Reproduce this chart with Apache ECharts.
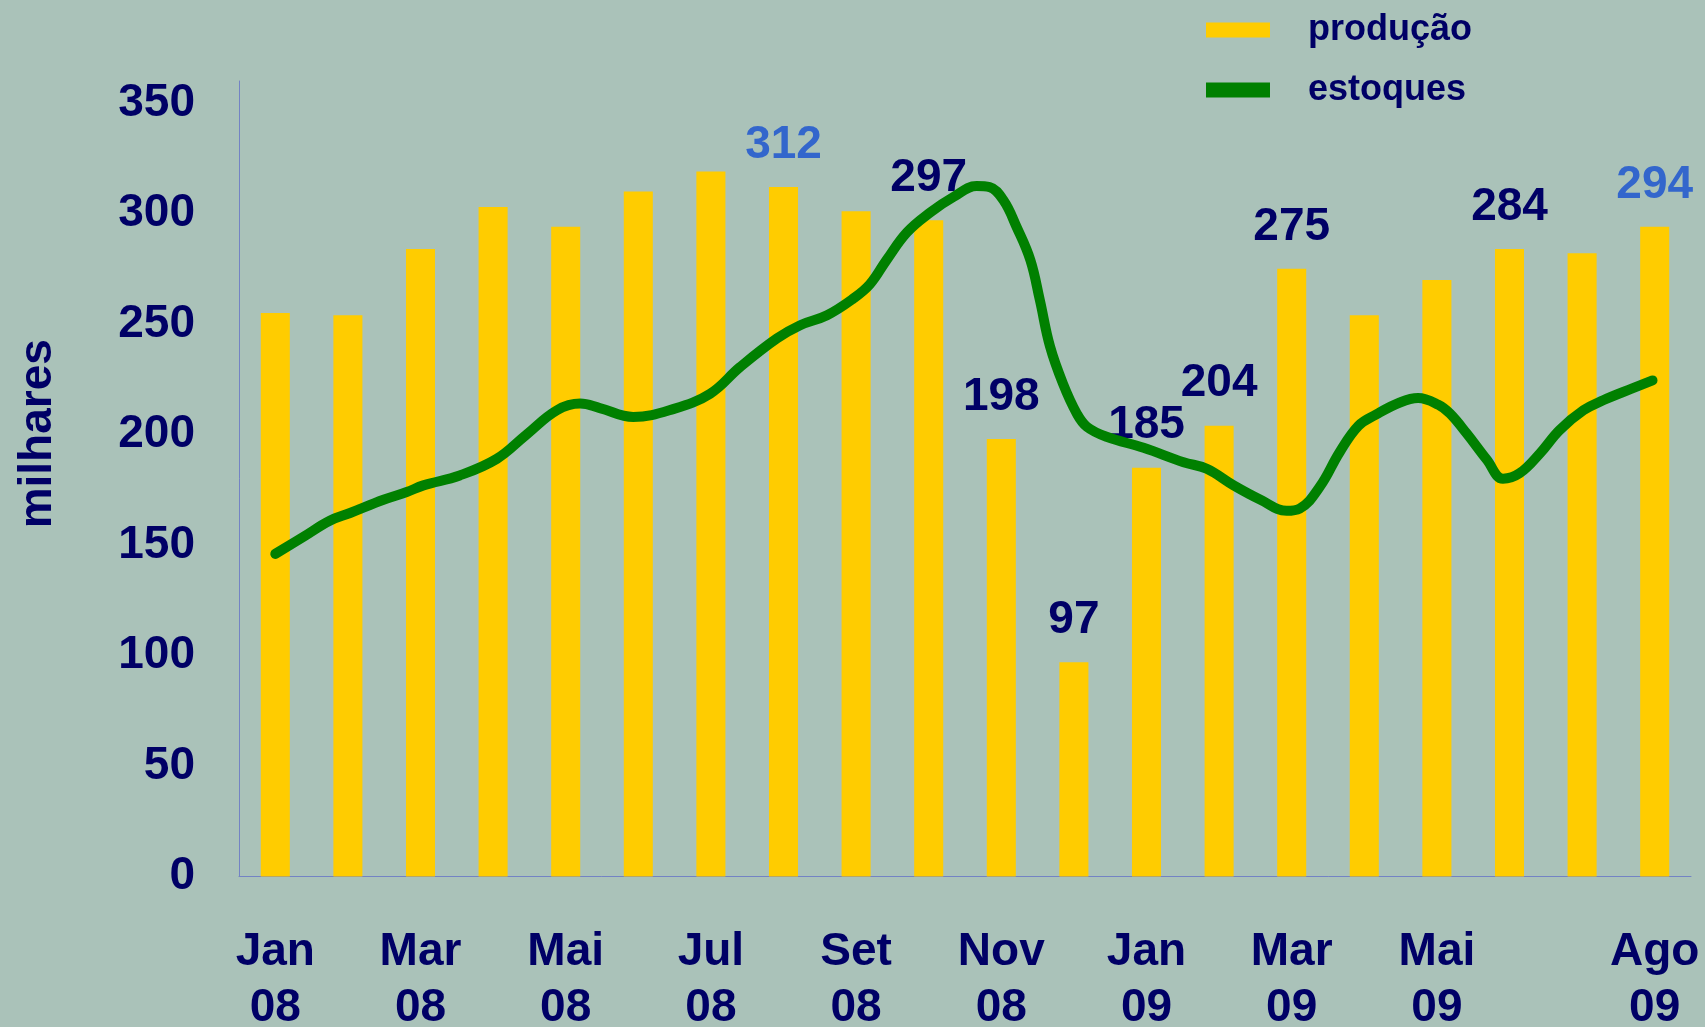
<!DOCTYPE html>
<html>
<head>
<meta charset="utf-8">
<script src="https://cdn.jsdelivr.net/npm/echarts@6/dist/echarts.min.js"></script>
<style>
  html, body { margin: 0; padding: 0; background: #aac2b9; }
  #chart { width: 1705px; height: 1027px; }
</style>
</head>
<body>
<div id="chart"></div>
<script>
// meses (categorias) e rótulos do eixo
const months = ['Jan 08', 'Fev 08', 'Mar 08', 'Abr 08', 'Mai 08', 'Jun 08', 'Jul 08', 'Ago 08', 'Set 08', 'Out 08',
  'Nov 08', 'Dez 08', 'Jan 09', 'Fev 09', 'Mar 09', 'Abr 09', 'Mai 09', 'Jun 09', 'Jul 09', 'Ago 09']
const monthLabels = ['Jan\n08', '', 'Mar\n08', '', 'Mai\n08', '', 'Jul\n08', '', 'Set\n08', '', 'Nov\n08', '',
  'Jan\n09', '', 'Mar\n09', '', 'Mai\n09', '', '', 'Ago\n09']

// produção mensal (milhares)
const producao = [255, 254, 284, 303, 294, 310, 319, 312, 301, 297, 198, 97, 185, 204, 275, 254, 270, 284, 282, 294]
// quais barras mostram o valor, e em que cor
const labelColors = [null, null, null, null, null, null, null, '#3366cc', null, '#000066',
  '#000066', '#000066', '#000066', '#000066', '#000066', null, null, '#000066', null, '#3366cc']

// estoques: posição em meses (0 = Jan 08) e valor
const estoqueX = [0, 0.4, 0.75, 1.03, 1.49, 1.81, 2.04, 2.54, 3.05, 3.46, 3.88, 4.2, 4.47, 4.93, 5.48, 5.99,
  6.4, 6.91, 7.23, 7.6, 7.96, 8.19, 8.42, 8.7, 9.02, 9.34, 9.66, 9.84, 10.03, 10.21, 10.4, 10.53, 10.67,
  10.85, 11.04, 11.18, 11.45, 11.96, 12.51, 12.83, 13.2, 13.57, 13.93, 14.11, 14.39, 14.66, 14.92, 15.16,
  15.49, 15.74, 16.02, 16.18, 16.41, 16.69, 16.91, 17.14, 17.42, 17.69, 18.02, 18.29, 18.7, 18.97]
const estoqueY = [146, 154, 161, 164.5, 170.5, 174, 177, 181.5, 189, 200, 211, 214, 212, 208, 211.5, 218.5,
  230.5, 243.5, 249.5, 254, 261.5, 268, 279, 291.5, 300.5, 307.5, 312.5, 312, 306, 294, 279, 261, 240,
  223, 209.5, 203.5, 199, 194, 187.5, 184.5, 177, 170.5, 165.5, 166.5, 176.5, 192, 204, 209,
  214.5, 216.5, 213.5, 209.5, 200.5, 188.5, 180, 182.5, 191.5, 202, 211, 215.5, 221, 224.5]

const navy = '#000066'
const font = "'Liberation Sans', Arial, sans-serif"

const chart = echarts.init(document.getElementById('chart'), null, { renderer: 'canvas' })

chart.setOption({
  animation: false,
  backgroundColor: '#aac2b9',
  textStyle: { fontFamily: font },
  legend: {
    orient: 'vertical',
    left: 1201,
    top: 6,
    itemWidth: 64,
    itemHeight: 15,
    itemGap: 22,
    textStyle: {
      color: navy, fontSize: 36, fontWeight: 'bold', fontFamily: font,
      lineHeight: 38, padding: [0, 0, 0, 33],
    },
    data: [
      { name: 'produção', icon: 'rect' },
      { name: 'estoques', icon: 'rect' },
    ],
  },
  grid: { left: 239, right: 14, top: 81, bottom: 150.5, outerBoundsMode: 'none', containLabel: false },
  xAxis: [
    {
      type: 'category',
      data: months,
      boundaryGap: true,
      axisLine: { lineStyle: { color: '#7383c4', width: 1 } },
      axisTick: { show: false },
      axisLabel: {
        interval: 0,
        hideOverlap: false,
        margin: 48,
        color: navy,
        fontSize: 46,
        fontWeight: 'bold',
        fontFamily: font,
        lineHeight: 56,
        formatter: (v, i) => monthLabels[i],
      },
    },
    { type: 'value', min: -0.5, max: 19.5, show: false },
  ],
  yAxis: {
    type: 'value',
    name: 'milhares',
    nameLocation: 'middle',
    nameGap: 178,
    nameTextStyle: {
      color: navy, fontSize: 46, fontWeight: 'bold', fontFamily: font,
      padding: [0, 0, 0, 90],
    },
    min: 0,
    max: 360,
    interval: 50,
    axisLine: { show: true, onZero: false, lineStyle: { color: '#7383c4', width: 1 } },
    axisTick: { show: false },
    splitLine: { show: false },
    axisLabel: {
      showMaxLabel: false,
      margin: 44,
      color: navy,
      fontSize: 46,
      fontWeight: 'bold',
      fontFamily: font,
    },
  },
  series: [
    {
      name: 'produção',
      type: 'bar',
      barWidth: '40%',
      itemStyle: { color: '#ffcc00' },
      data: producao.map((v, i) => ({
        value: v,
        label: {
          show: labelColors[i] !== null,
          position: 'top',
          distance: 19,
          color: labelColors[i] || navy,
          fontSize: 46,
          fontWeight: 'bold',
          fontFamily: font,
        },
      })),
      z: 2,
    },
    {
      name: 'estoques',
      type: 'line',
      xAxisIndex: 1,
      smooth: 0.4,
      symbol: 'none',
      itemStyle: { color: '#008000' },
      lineStyle: { color: '#008000', width: 10, cap: 'round', join: 'round' },
      data: estoqueX.map((x, i) => [x, estoqueY[i]]),
      z: 3,
    },
  ],
})
</script>
</body>
</html>
